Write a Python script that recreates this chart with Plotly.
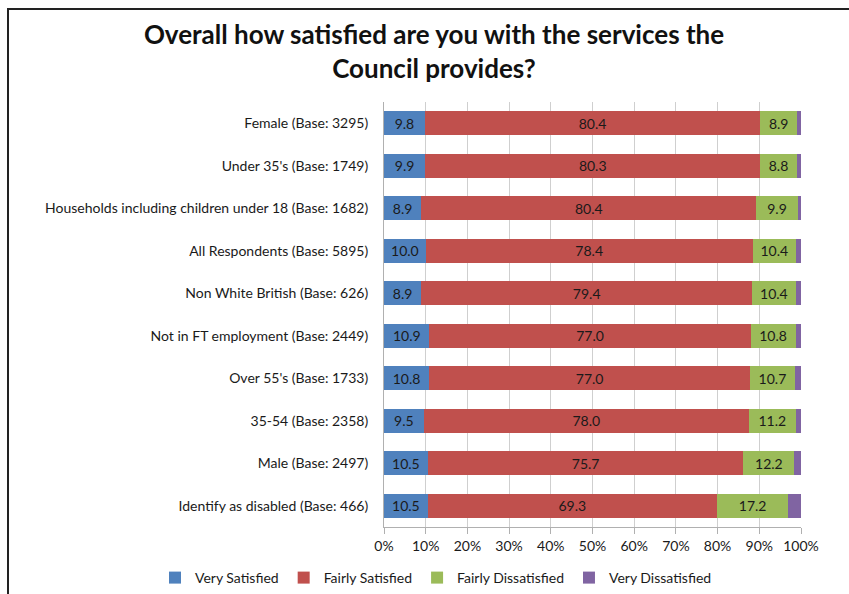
import plotly.graph_objects as go

# Respondent groups (top to bottom as displayed)
groups = [
    "Female (Base: 3295)",
    "Under 35's (Base: 1749)",
    "Households including children under 18 (Base: 1682)",
    "All Respondents (Base: 5895)",
    "Non White British (Base: 626)",
    "Not in FT employment (Base: 2449)",
    "Over 55's (Base: 1733)",
    "35-54 (Base: 2358)",
    "Male (Base: 2497)",
    "Identify as disabled (Base: 466)",
]

very_satisfied = [9.8, 9.9, 8.9, 10.0, 8.9, 10.9, 10.8, 9.5, 10.5, 10.5]
fairly_satisfied = [80.4, 80.3, 80.4, 78.4, 79.4, 77.0, 77.0, 78.0, 75.7, 69.3]
fairly_dissatisfied = [8.9, 8.8, 9.9, 10.4, 10.4, 10.8, 10.7, 11.2, 12.2, 17.2]
very_dissatisfied = [0.9, 1.0, 0.8, 1.2, 1.3, 1.3, 1.5, 1.3, 1.6, 3.0]

x_ticks = [0, 10, 20, 30, 40, 50, 60, 70, 80, 90, 100]
x_tick_text = [f"{t}%" for t in x_ticks]

FONT = "Lato, 'Open Sans', sans-serif"
W, H = 849, 594
ML, MR, MT, MB = 384, 48, 102, 67
PW, PH = W - ML - MR, H - MT - MB

series = [
    ("Very Satisfied", very_satisfied, "#4F81BD", True),
    ("Fairly Satisfied", fairly_satisfied, "#C0504D", True),
    ("Fairly Dissatisfied", fairly_dissatisfied, "#9BBB59", True),
    ("Very Dissatisfied", very_dissatisfied, "#8064A2", False),
]

fig = go.Figure()
for name, vals, color, labelled in series:
    fig.add_trace(go.Bar(
        y=groups,
        x=vals,
        name=name,
        orientation="h",
        marker=dict(color=color, line=dict(width=0)),
        text=[f"{v:.1f}" for v in vals] if labelled else None,
        textposition="inside" if labelled else "none",
        insidetextanchor="middle",
        textangle=0,
        textfont=dict(family=FONT, size=14, color="#1a1a1a"),
        hoverinfo="x+name",
    ))


def px_x(px):
    return (px - ML) / PW


def px_y(py):
    return 1 - (py - MT) / PH


fig.update_layout(
    barmode="stack",
    bargap=0.43,
    width=W,
    height=H,
    paper_bgcolor="white",
    plot_bgcolor="white",
    margin=dict(l=ML, r=MR, t=MT, b=MB, autoexpand=False),
    font=dict(family=FONT, size=14, color="#1a1a1a"),
    title=dict(
        text="Overall how satisfied are you with the services the<br>Council provides?",
        x=434 / W, xanchor="center",
        xref="container", yref="container",
        y=1 - 44 / H, yanchor="top",
        font=dict(family=FONT, size=26, color="#111111", weight="bold"),
    ),
    legend=dict(
        orientation="h",
        xref="paper", yref="paper",
        x=px_x(155), xanchor="left",
        y=px_y(578), yanchor="middle",
        font=dict(family=FONT, size=14),
        traceorder="normal",
    ),
    xaxis=dict(
        range=[0, 100],
        tickvals=x_ticks,
        ticktext=x_tick_text,
        showgrid=True,
        gridcolor="#cfcfcf",
        gridwidth=1,
        showline=True,
        linecolor="#b0b0b0",
        ticks="outside",
        ticklen=6,
        tickcolor="#b0b0b0",
        tickfont=dict(family=FONT, size=14),
        zeroline=False,
        fixedrange=True,
    ),
    yaxis=dict(
        autorange="reversed",
        showline=True,
        linecolor="#b0b0b0",
        ticks="",
        ticklabelstandoff=12,
        tickfont=dict(family=FONT, size=14),
        fixedrange=True,
    ),
    shapes=[
        # outer frame around the chart
        dict(type="line", xref="paper", yref="paper",
             x0=px_x(7), x1=px_x(860), y0=px_y(9), y1=px_y(9),
             line=dict(color="#222222", width=2)),
        dict(type="line", xref="paper", yref="paper",
             x0=px_x(8), x1=px_x(8), y0=px_y(9), y1=px_y(600),
             line=dict(color="#222222", width=2)),
    ],
)

fig.write_html("out.html")
